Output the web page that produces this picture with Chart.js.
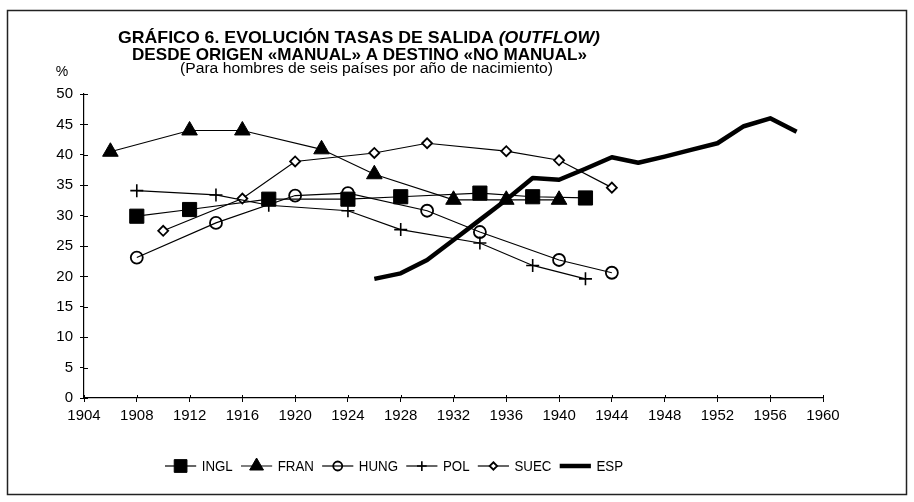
<!DOCTYPE html>
<html>
<head>
<meta charset="utf-8">
<script src="https://cdn.jsdelivr.net/npm/chart.js@4.4.1/dist/chart.umd.min.js"></script>
<style>
  html, body { margin: 0; padding: 0; background: #fff; }
  canvas { display: block; }
</style>
</head>
<body>
<canvas id="chart" width="914" height="502"></canvas>
<script>
// values (birth year, % outflow)
const inglYears = [1908, 1912, 1918, 1924, 1928, 1934, 1938, 1942];
const inglValues = [29.9, 31.0, 32.7, 32.7, 33.1, 33.7, 33.1, 32.9];

const franYears = [1906, 1912, 1916, 1922, 1926, 1932, 1936, 1940];
const franValues = [40.5, 44.0, 44.0, 40.9, 36.8, 32.6, 32.6, 32.6];

const hungYears = [1908, 1914, 1920, 1924, 1930, 1934, 1940, 1944];
const hungValues = [23.1, 28.8, 33.3, 33.7, 30.8, 27.3, 22.7, 20.6];

const polYears = [1908, 1914, 1918, 1924, 1928, 1934, 1938, 1942];
const polValues = [34.1, 33.4, 31.7, 30.8, 27.7, 25.5, 21.8, 19.6];

const suecYears = [1910, 1916, 1920, 1926, 1930, 1936, 1940, 1944];
const suecValues = [27.5, 32.8, 38.9, 40.3, 41.9, 40.6, 39.1, 34.6];

const espYears = [1926, 1928, 1930, 1932, 1934, 1936, 1938, 1940, 1942, 1944, 1946, 1948, 1950, 1952, 1954, 1956, 1958];
const espValues = [19.6, 20.5, 22.7, 26.0, 29.3, 32.6, 36.2, 35.9, 37.7, 39.6, 38.7, 39.7, 40.8, 41.9, 44.7, 46.0, 43.8];

const titleLine1 = "GRÁFICO 6. EVOLUCIÓN TASAS DE SALIDA ";
const titleLine1b = "(OUTFLOW)";
const titleLine2 = "DESDE ORIGEN «MANUAL» A DESTINO «NO MANUAL»";
const titleLine3 = "(Para hombres de seis países por año de nacimiento)";

const FONT = '"Liberation Sans", Arial, Helvetica, sans-serif';

const toPoints = (xs, ys) => xs.map((x, i) => ({ x: x, y: ys[i] }));

const series = [
  { label: "INGL", data: toPoints(inglYears, inglValues), pointStyle: "rect", pointRadius: 10, fill: "#000", bw: 1 },
  { label: "FRAN", data: toPoints(franYears, franValues), pointStyle: "triangle", pointRadius: 9, fill: "#000", bw: 1 },
  { label: "HUNG", data: toPoints(hungYears, hungValues), pointStyle: "circle", pointRadius: 6, fill: "rgba(0,0,0,0)", bw: 1.8 },
  { label: "POL", data: toPoints(polYears, polValues), pointStyle: "cross", pointRadius: 6.5, fill: "#fff", bw: 1.6 },
  { label: "SUEC", data: toPoints(suecYears, suecValues), pointStyle: "rectRot", pointRadius: 5, fill: "#fff", bw: 1.8 },
];

const datasets = series.map(s => ({
  label: s.label,
  data: s.data,
  borderColor: "#000",
  borderWidth: 1.2,
  pointStyle: s.pointStyle,
  pointRadius: s.pointRadius,
  pointBackgroundColor: s.fill,
  pointBorderColor: "#000",
  pointBorderWidth: s.bw,
  tension: 0,
}));

datasets.push({
  label: "ESP",
  data: toPoints(espYears, espValues),
  borderColor: "#000",
  borderWidth: 4.5,
  pointRadius: 0,
  borderJoinStyle: "round",
  tension: 0,
});

// squeeze/stretch a line of text so it spans left..right
function fitText(ctx, parts, left, right, baseline) {
  let total = 0;
  parts.forEach(p => { ctx.font = p.font; total += ctx.measureText(p.text).width; });
  const sx = (right - left) / total;
  ctx.save();
  ctx.translate(left, baseline);
  ctx.scale(sx, 1);
  ctx.textAlign = "left";
  ctx.textBaseline = "alphabetic";
  let x = 0;
  parts.forEach(p => {
    ctx.font = p.font;
    ctx.fillText(p.text, x, 0);
    x += ctx.measureText(p.text).width;
  });
  ctx.restore();
}

// little legend marker, same look as the points
function drawMarker(ctx, style, x, y, r, fill, bw) {
  ctx.save();
  ctx.lineWidth = bw;
  ctx.strokeStyle = "#000";
  ctx.fillStyle = fill;
  ctx.beginPath();
  if (style === "rect") {
    const h = r * Math.SQRT1_2;
    ctx.rect(x - h, y - h, 2 * h, 2 * h);
  } else if (style === "triangle") {
    ctx.moveTo(x, y - r);
    ctx.lineTo(x + r * 0.866, y + r / 2);
    ctx.lineTo(x - r * 0.866, y + r / 2);
    ctx.closePath();
  } else if (style === "circle") {
    ctx.arc(x, y, r, 0, Math.PI * 2);
  } else if (style === "cross") {
    ctx.moveTo(x - r, y); ctx.lineTo(x + r, y);
    ctx.moveTo(x, y - r); ctx.lineTo(x, y + r);
  } else if (style === "rectRot") {
    ctx.moveTo(x, y - r); ctx.lineTo(x + r, y); ctx.lineTo(x, y + r); ctx.lineTo(x - r, y);
    ctx.closePath();
  }
  if (style !== "cross") ctx.fill();
  ctx.stroke();
  ctx.restore();
}

const decor = {
  id: "decor",
  beforeDraw(chart) {
    const ctx = chart.ctx;
    ctx.save();
    ctx.fillStyle = "#fff";
    ctx.fillRect(0, 0, chart.width, chart.height);
    ctx.restore();
  },
  afterDraw(chart) {
    const ctx = chart.ctx;
    const { x, y } = chart.scales;
    const area = chart.chartArea;
    ctx.save();

    // frame
    ctx.strokeStyle = "#222";
    ctx.lineWidth = 1.5;
    ctx.strokeRect(7.5, 10.5, 899, 484);

    // inner half of the cross ticks
    ctx.strokeStyle = "#000";
    ctx.lineWidth = 1;
    y.ticks.forEach(t => {
      const py = Math.round(y.getPixelForValue(t.value)) + 0.5;
      ctx.beginPath();
      ctx.moveTo(area.left, py);
      ctx.lineTo(area.left + 4, py);
      ctx.stroke();
    });
    x.ticks.forEach(t => {
      const px = Math.round(x.getPixelForValue(t.value)) + 0.5;
      ctx.beginPath();
      ctx.moveTo(px, area.bottom);
      ctx.lineTo(px, area.bottom - 3);
      ctx.stroke();
    });

    // titles
    ctx.fillStyle = "#000";
    fitText(ctx, [
      { text: titleLine1, font: "bold 17px " + FONT },
      { text: titleLine1b, font: "italic bold 17px " + FONT },
    ], 118, 600, 43);
    fitText(ctx, [{ text: titleLine2, font: "bold 17px " + FONT }], 132, 587, 60);
    fitText(ctx, [{ text: titleLine3, font: "14px " + FONT }], 180, 553, 73);

    // % unit
    ctx.font = "14px " + FONT;
    ctx.textAlign = "center";
    ctx.textBaseline = "alphabetic";
    ctx.fillText("%", 62, 76);

    // legend, laid out then squeezed to the span seen in the scan
    const legLeft = 165, legRight = 623, ly = 466;
    ctx.font = "14.5px " + FONT;
    const labels = chart.data.datasets.map(d => d.label);
    const lineLen = 34, gapIn = 6, gapOut = 9;
    let total = 0;
    labels.forEach(l => { total += lineLen + gapIn + ctx.measureText(l).width + gapOut; });
    total -= gapOut;
    const k = (legRight - legLeft) / total;
    let lx = legLeft;
    labels.forEach((l, i) => {
      const s = series[i];
      const len = lineLen * k;
      ctx.save();
      ctx.strokeStyle = "#000";
      ctx.lineWidth = s ? 1.2 : 4.5;
      ctx.beginPath();
      ctx.moveTo(lx, ly);
      ctx.lineTo(lx + len, ly);
      ctx.stroke();
      ctx.restore();
      if (s) {
        const r = s.pointStyle === "rect" ? 9 : s.pointStyle === "triangle" ? 8 : s.pointRadius * 0.75;
        drawMarker(ctx, s.pointStyle, lx + len / 2, ly, r, s.fill, s.bw);
      }
      lx += len + gapIn * k;
      ctx.font = "14.5px " + FONT;
      const tw = ctx.measureText(l).width;
      fitText(ctx, [{ text: l, font: "14.5px " + FONT }], lx, lx + tw * k, ly + 5);
      lx += (tw + gapOut) * k;
    });

    ctx.restore();
  },
};

new Chart(document.getElementById("chart"), {
  type: "line",
  data: { datasets },
  options: {
    responsive: false,
    animation: false,
    devicePixelRatio: 1,
    layout: { padding: { left: 10, right: 91, top: 94, bottom: 74 } },
    plugins: {
      legend: { display: false },
      title: { display: false },
      tooltip: { enabled: false },
    },
    scales: {
      x: {
        type: "linear",
        min: 1904,
        max: 1960,
        afterFit: scale => { scale.height = 30; },
        ticks: {
          stepSize: 4,
          autoSkip: false,
          maxRotation: 0,
          color: "#000",
          font: { family: FONT, size: 15 },
          padding: 5,
          callback: v => String(v),
        },
        grid: { drawOnChartArea: false, drawTicks: true, tickLength: 4, color: "#000", lineWidth: 1 },
        border: { color: "#000", width: 1.2 },
      },
      y: {
        min: 0,
        max: 50,
        afterFit: scale => { scale.width = 74; },
        ticks: {
          stepSize: 5,
          color: "#000",
          font: { family: FONT, size: 15 },
          padding: 7,
        },
        grid: { drawOnChartArea: false, drawTicks: true, tickLength: 4, color: "#000", lineWidth: 1 },
        border: { color: "#000", width: 1.2 },
      },
    },
  },
  plugins: [decor],
});
</script>
</body>
</html>
